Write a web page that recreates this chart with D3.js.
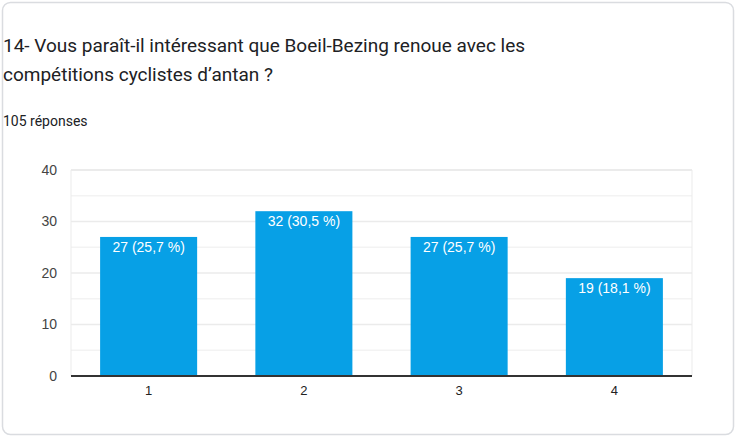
<!DOCTYPE html>
<html><head><meta charset="utf-8">
<script src="https://cdn.jsdelivr.net/npm/d3@7"></script>
<style>
html,body{margin:0;padding:0;background:#fff;}
svg{display:block;}
</style></head>
<body>
<svg id="chart" width="737" height="437"></svg>
<script>
const categories = ["1","2","3","4"];
const counts = [27, 32, 27, 19];
const percents = ["25,7","30,5","25,7","18,1"];
const yTicks = [0,10,20,30,40];
const minorTicks = [5,15,25,35];
const titleLines = ["14- Vous paraît-il intéressant que Boeil-Bezing renoue avec les","compétitions cyclistes d’antan ?"];
const subtitle = "105 réponses";

(function(){
const svg = d3.select("#chart");
svg.append("rect").attr("x",2.5).attr("y",2.5).attr("width",731).attr("height",432).attr("rx",8)
  .attr("fill","#fff").attr("stroke","#dadce0").attr("stroke-width",1.5);

svg.selectAll("text.title").data(titleLines).enter().append("text")
  .attr("x",3).attr("y",(d,i)=>52+i*29)
  .attr("font-family","Roboto").attr("font-size",19).attr("fill","#202124").text(d=>d);
svg.append("text").attr("x",3).attr("y",126).attr("font-family","Roboto").attr("font-size",14)
  .attr("fill","#202124").text(subtitle);

const pl=71, pr=692, pt=170, pb=376;
const x = d3.scaleBand().domain(categories).range([pl,pr]).paddingInner(0.375).paddingOuter(0.1875);
const y = d3.scaleLinear().domain([0,40]).range([pb,pt]);

const g = svg.append("g");
g.selectAll("line.minor").data(minorTicks).enter().append("line")
  .attr("x1",pl).attr("x2",pr).attr("y1",d=>y(d)).attr("y2",d=>y(d))
  .attr("stroke","#f3f3f3").attr("stroke-width",1.5);
g.selectAll("line.major").data(yTicks.filter(d=>d>0)).enter().append("line")
  .attr("x1",pl).attr("x2",pr).attr("y1",d=>y(d)).attr("y2",d=>y(d))
  .attr("stroke","#ebebeb").attr("stroke-width",d=>d===40?2:1.5);
[pl,pr].forEach(v=>g.append("line").attr("x1",v).attr("x2",v).attr("y1",pt).attr("y2",pb)
  .attr("stroke","#ebebeb").attr("stroke-width",1));

const yAxis = d3.axisLeft(y).tickValues(yTicks).tickSize(0).tickPadding(14);
const ya = svg.append("g").attr("transform",`translate(${pl},0)`).call(yAxis);
ya.select(".domain").remove();
ya.selectAll("text").attr("font-family","Arial, Liberation Sans").attr("font-size",14).attr("fill","#444");

g.selectAll("rect.bar").data(counts).enter().append("rect")
  .attr("x",(d,i)=>x(categories[i])).attr("width",x.bandwidth())
  .attr("y",d=>y(d)).attr("height",d=>y(0)-y(d)).attr("fill","#07a0e6");

g.selectAll("text.val").data(counts).enter().append("text")
  .attr("x",(d,i)=>x(categories[i])+x.bandwidth()/2).attr("y",d=>y(d)+15)
  .attr("text-anchor","middle").attr("font-family","Arial, Liberation Sans").attr("font-size",14)
  .attr("fill","#fff").text((d,i)=>`${d} (${percents[i]} %)`);

const xAxis = d3.axisBottom(x).tickSize(0).tickPadding(10);
const xa = svg.append("g").attr("transform",`translate(0,${pb})`).call(xAxis);
xa.select(".domain").remove();
xa.selectAll("text").attr("font-family","Arial, Liberation Sans").attr("font-size",13).attr("fill","#222");
svg.append("line").attr("x1",pl).attr("x2",pr).attr("y1",pb).attr("y2",pb)
  .attr("stroke","#333").attr("stroke-width",2);
})();
</script>
</body></html>
